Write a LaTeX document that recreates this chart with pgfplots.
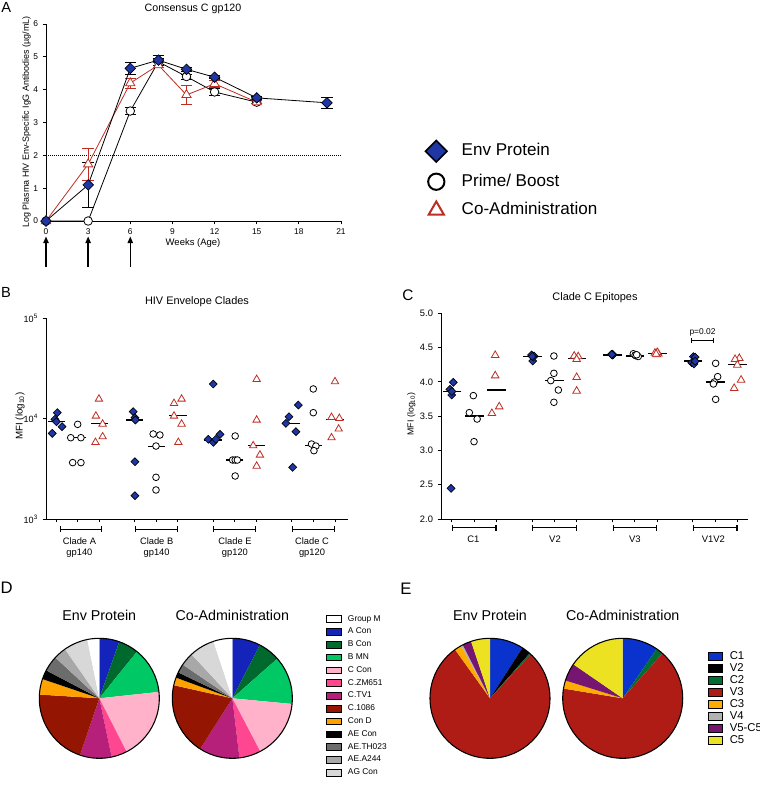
\documentclass[border=0pt]{standalone}
\usepackage{fontspec}
\setmainfont{Liberation Sans}
\usepackage{pgfplots}
\pgfplotsset{compat=1.18}
\usetikzlibrary{arrows.meta}

\definecolor{envblue}{RGB}{30,55,165}
\definecolor{cored}{RGB}{190,45,35}
% pie D colours
\definecolor{pGroupM}{RGB}{255,255,255}
\definecolor{pACon}{RGB}{20,35,185}
\definecolor{pBCon}{RGB}{0,105,45}
\definecolor{pBMN}{RGB}{0,200,100}
\definecolor{pCCon}{RGB}{255,178,202}
\definecolor{pZM}{RGB}{255,70,145}
\definecolor{pTV}{RGB}{182,32,122}
\definecolor{pC1086}{RGB}{148,22,2}
\definecolor{pConD}{RGB}{255,162,0}
\definecolor{pAECon}{RGB}{0,0,0}
\definecolor{pTH}{RGB}{108,108,108}
\definecolor{pA244}{RGB}{168,168,168}
\definecolor{pAG}{RGB}{216,216,216}
% pie E colours
\definecolor{eC1}{RGB}{10,50,205}
\definecolor{eV2}{RGB}{0,0,0}
\definecolor{eC2}{RGB}{0,110,50}
\definecolor{eV3}{RGB}{175,28,22}
\definecolor{eC3}{RGB}{255,172,0}
\definecolor{eV4}{RGB}{178,178,178}
\definecolor{eV5}{RGB}{118,22,112}
\definecolor{eC5}{RGB}{236,226,34}

\pgfplotsset{
  gp/.style={scale only axis, axis x line*=bottom, axis y line*=left,
    tick align=outside, major tick length=2.5pt,
    axis line style={line width=0.7pt},
    every tick/.style={black, line width=0.7pt},
    clip=false, /pgf/number format/assume math mode=true},
  envmk/.style={mark=square*, mark size=#1, mark options={rotate=45, fill=envblue, draw=black, line width=0.5pt, solid}},
  pbmk/.style={mark=*, mark size=#1, mark options={fill=white, draw=black, line width=0.6pt, solid}},
  comk/.style={mark=triangle*, mark size=#1, mark options={fill=white, draw=cored, line width=0.6pt, solid}},
  medl/.style={only marks, mark=-, mark size=#1, mark options={black, line width=0.8pt}},
  errA/.style={draw=none, mark=none, forget plot,
    error bars/.cd, y dir=both, y explicit,
    error bar style={draw=#1, solid, line width=0.6pt},
    error mark options={rotate=90, mark size=4.3pt, line width=0.6pt, draw=#1}},
  pieax/.style={hide axis, anchor=south west, x=45pt, y=45pt,
    xmin=-1, xmax=4.8, ymin=-1, ymax=1.6, clip=false, legend cell align=left},
}

\newcommand{\pie}[2]{%
  \gdef\pcum{0}%
  \foreach \v/\cl in {#2}{%
    \pgfmathsetmacro\pa{\pcum}%
    \pgfmathsetmacro\pb{\pcum+3.6*\v}%
    \pgfmathsetmacro\sx{#1+sin(\pa)}%
    \pgfmathsetmacro\sy{cos(\pa)}%
    \pgfmathsetmacro\saa{90-\pa}%
    \pgfmathsetmacro\sbb{90-\pb}%
    \edef\temp{\noexpand\fill[\cl] (axis cs:#1,0) -- (axis cs:\sx,\sy) arc[start angle=\saa, end angle=\sbb, radius=45pt] -- cycle;}%
    \temp
    \xdef\pcum{\pb}%
  }%
  \draw[line width=0.8pt] (axis cs:#1,0) circle[radius=45pt];%
}

\begin{document}
\begin{tikzpicture}
\useasboundingbox (0,0) rectangle (570pt,-589.5pt);

%% ---------------- Panel A ----------------
\begin{axis}[gp, at={(34.5pt,-165.75pt)}, anchor=south west,
  width=221.25pt, height=147.75pt,
  xmin=0, xmax=21, ymin=0, ymax=6,
  xtick={0,3,...,21}, ytick={0,1,...,6},
  tick label style={font=\fontsize{6.3}{7}\selectfont},
  legend style={at={(axis cs:27.0,2.46)}, anchor=north west, draw=none, fill=none,
    font=\fontsize{12.8}{14}\selectfont, row sep=8.3pt, inner sep=0pt,
    nodes={inner sep=0.5pt, text height=9.3pt, text depth=2.7pt},
    /tikz/every odd column/.append style={column sep=10.5pt}},
  legend cell align=left]
\addplot[black, densely dotted, line width=0.5pt, forget plot] coordinates {(0,2) (21,2)};
% error bars
\addplot[errA=black] coordinates {(3,1.1) +- (0,0.68) (6,4.65) +- (0,0.17) (8,4.9) +- (0,0.15) (10,4.62) +- (0,0.05) (12,4.38) +- (0,0.05) (15,3.75) +- (0,0.05) (20,3.6) +- (0,0.17)};
\addplot[errA=black] coordinates {(6,3.35) +- (0,0.1) (8,4.85) +- (0,0.1) (10,4.4) +- (0,0.08) (12,3.93) +- (0,0.1) (15,3.62) +- (0,0.05)};
\addplot[errA=cored] coordinates {(3,1.73) +- (0,0.48) (6,4.2) +- (0,0.15) (8,4.75) +- (0,0.08) (10,3.84) +- (0,0.28) (12,4.18) +- (0,0.1) (15,3.62) +- (0,0.05)};
% series
\addplot[black, line width=0.6pt, pbmk=3.2pt, forget plot] coordinates {(0,0) (3,0) (6,3.35) (8,4.85) (10,4.4) (12,3.93) (15,3.62)};
\addplot[cored, line width=0.6pt, comk=4pt, forget plot] coordinates {(0,0) (3,1.73) (6,4.2) (8,4.75) (10,3.84) (12,4.18) (15,3.62)};
\addplot[black, line width=0.6pt, envmk=2.8pt, forget plot] coordinates {(0,0) (3,1.1) (6,4.65) (8,4.9) (10,4.62) (12,4.38) (15,3.75) (20,3.6)};
% immunisation arrows
\draw[line width=1.1pt, -{Triangle[length=5pt, width=4pt]}] (axis cs:0,-1.4) -- (axis cs:0,-0.47);
\draw[line width=1.1pt, -{Triangle[length=5pt, width=4pt]}] (axis cs:3,-1.4) -- (axis cs:3,-0.47);
\draw[line width=1.1pt, -{Triangle[length=5pt, width=4pt]}] (axis cs:6,-1.4) -- (axis cs:6,-0.47);
% legend
\addlegendimage{only marks, mark=square*, mark size=5.7pt, mark options={rotate=45, fill=envblue, draw=black, line width=1.2pt}}
\addlegendentry{Env Protein}
\addlegendimage{only marks, mark=*, mark size=6.1pt, mark options={fill=white, draw=black, line width=1.5pt}}
\addlegendentry{Prime/ Boost}
\addlegendimage{only marks, mark=triangle*, mark size=6.6pt, mark options={fill=white, draw=cored, line width=1.5pt}}
\addlegendentry{Co-Administration}
\end{axis}

%% ---------------- Panel B ----------------
\begin{axis}[gp, at={(34.5pt,-389.25pt)}, anchor=south west,
  width=226.5pt, height=150.75pt,
  xmin=-0.46, xmax=13.46, ymin=3, ymax=5,
  xtick={0,1,2,3.62,4.62,5.62,7.24,8.24,9.24,10.86,11.86,12.86}, xticklabels={},
  ytick={3,4,5}, yticklabels={10\textsuperscript{3},10\textsuperscript{4},10\textsuperscript{5}},
  tick label style={font=\fontsize{6.8}{8}\selectfont}]
\addplot[medl=6.5pt] coordinates {(0.02,3.968) (3.62,3.985) (7.24,3.786) (10.86,3.952)};
\addplot[medl=6.5pt] coordinates {(1,3.809) (4.62,3.726) (8.24,3.587) (11.86,3.736)};
\addplot[medl=6.5pt] coordinates {(2,3.952) (5.62,4.028) (9.24,3.730) (12.86,3.992)};
\addplot[only marks, envmk=2.1pt] coordinates {
 (-0.17,3.852) (0.06,4.058) (-0.05,3.992) (0.28,3.919) (0.02,3.968)
 (3.56,4.068) (3.64,4.008) (3.66,3.985) (3.64,3.570) (3.64,3.232)
 (7.25,4.343) (7.02,3.793) (7.25,3.763) (7.37,3.793) (7.56,3.842)
 (10.74,4.018) (10.6,3.952) (11.17,4.134) (11.06,3.869) (10.91,3.514)};
\addplot[only marks, pbmk=2.5pt] coordinates {
 (1.0,3.942) (0.68,3.809) (1.15,3.809) (0.77,3.561) (1.15,3.561)
 (4.48,3.846) (4.79,3.836) (4.61,3.726) (4.61,3.415) (4.61,3.289)
 (8.26,3.826) (8.14,3.587) (8.26,3.587) (8.36,3.587) (8.26,3.428)
 (11.86,4.294) (11.86,4.058) (11.78,3.746) (11.98,3.726) (11.89,3.680)};
\addplot[only marks, comk=3.2pt] coordinates {
 (1.98,4.194) (1.84,4.025) (2.15,3.945) (1.82,3.763) (2.15,3.819)
 (5.44,4.151) (5.79,4.194) (5.44,4.025) (5.79,3.945) (5.64,3.763)
 (9.25,4.390) (9.25,3.985) (9.09,3.730) (9.40,3.637) (9.25,3.527)
 (12.86,4.367) (12.70,4.012) (13.06,4.002) (13.03,3.896) (12.70,3.809)};
\draw[line width=0.8pt, {Bar[width=4pt]}-{Bar[width=4pt]}] (axis cs:0.18,2.9) -- (axis cs:2.14,2.9);
\draw[line width=0.8pt, {Bar[width=4pt]}-{Bar[width=4pt]}] (axis cs:3.62,2.9) -- (axis cs:5.62,2.9);
\draw[line width=0.8pt, {Bar[width=4pt]}-{Bar[width=4pt]}] (axis cs:7.24,2.9) -- (axis cs:9.24,2.9);
\draw[line width=0.8pt, {Bar[width=4pt]}-{Bar[width=4pt]}] (axis cs:10.86,2.9) -- (axis cs:12.86,2.9);
\node[align=center, font=\fontsize{7}{7.6}\selectfont] at (axis cs:1.08,2.715) {Clade A\\gp140};
\node[align=center, font=\fontsize{7}{7.6}\selectfont] at (axis cs:4.64,2.715) {Clade B\\gp140};
\node[align=center, font=\fontsize{7}{7.6}\selectfont] at (axis cs:8.25,2.715) {Clade E\\gp120};
\node[align=center, font=\fontsize{7}{7.6}\selectfont] at (axis cs:11.8,2.715) {Clade C\\gp120};
\end{axis}

%% ---------------- Panel C ----------------
\begin{axis}[gp, at={(330.75pt,-389.25pt)}, anchor=south west,
  width=230.25pt, height=154.3pt,
  xmin=-0.49, xmax=13.27, ymin=2, ymax=5,
  xtick={0,1,2,3.6,4.6,5.6,7.2,8.2,9.2,10.8,11.8,12.8}, xticklabels={},
  ytick={2,2.5,3,3.5,4,4.5,5}, yticklabels={2.0,2.5,3.0,3.5,4.0,4.5,5.0},
  tick label style={font=\fontsize{7}{8}\selectfont}]
\addplot[medl=7pt] coordinates {(0,3.857) (3.6,4.368) (7.2,4.392) (10.8,4.304)};
\addplot[medl=7pt] coordinates {(1,3.502) (4.6,4.018) (8.2,4.377) (11.8,3.998)};
\addplot[medl=7pt] coordinates {(2,3.881) (5.6,4.334) (9.2,4.416) (12.8,4.256)};
\addplot[only marks, envmk=2.1pt] coordinates {
 (0.06,3.993) (-0.09,3.891) (-0.01,3.808) (-0.04,2.447) (0.0,3.86)
 (3.57,4.392) (3.68,4.377) (3.62,4.304) (3.65,4.36) (3.6,4.37)
 (7.15,4.40) (7.22,4.395) (7.19,4.405) (7.2,4.39) (7.17,4.40)
 (10.82,4.368) (10.9,4.36) (10.75,4.28) (10.85,4.26) (10.9,4.30)};
\addplot[only marks, pbmk=2.5pt] coordinates {
 (0.96,3.799) (0.78,3.551) (1.13,3.458) (0.99,3.128)
 (4.57,4.377) (4.57,4.124) (4.43,4.018) (4.77,3.881) (4.57,3.702)
 (8.13,4.41) (8.25,4.38) (8.35,4.37) (8.21,4.39) (8.28,4.395)
 (11.82,4.270) (11.91,4.076) (11.76,3.998) (11.72,3.969) (11.82,3.745)};
\addplot[only marks, comk=3.3pt] coordinates {
 (1.94,4.387) (1.94,4.090) (2.12,3.638) (1.79,3.541)
 (5.48,4.377) (5.66,4.368) (5.59,4.329) (5.59,4.066) (5.59,3.867)
 (9.1,4.42) (9.25,4.41) (9.18,4.40) (9.2,4.43) (9.15,4.405)
 (12.88,4.343) (12.69,4.329) (12.79,4.246) (12.96,4.027) (12.65,3.906)};
\draw[line width=0.8pt, {Bar[width=4pt]}-{Bar[width=4pt]}] (axis cs:0,1.87) -- (axis cs:2,1.87);
\draw[line width=0.8pt, {Bar[width=4pt]}-{Bar[width=4pt]}] (axis cs:3.6,1.87) -- (axis cs:5.6,1.87);
\draw[line width=0.8pt, {Bar[width=4pt]}-{Bar[width=4pt]}] (axis cs:7.2,1.87) -- (axis cs:9.2,1.87);
\draw[line width=0.8pt, {Bar[width=4pt]}-{Bar[width=4pt]}] (axis cs:10.8,1.87) -- (axis cs:12.8,1.87);
\draw[line width=0.7pt, {Bar[width=4pt]}-{Bar[width=4pt]}] (axis cs:10.7,4.6) -- (axis cs:11.76,4.6);
\node[font=\fontsize{6.3}{7}\selectfont] at (axis cs:11.23,4.717) {p=0.02};
\node[font=\fontsize{7.1}{8}\selectfont] at (axis cs:0.96,1.71) {C1};
\node[font=\fontsize{7.1}{8}\selectfont] at (axis cs:4.62,1.71) {V2};
\node[font=\fontsize{7.1}{8}\selectfont] at (axis cs:8.2,1.71) {V3};
\node[font=\fontsize{7.1}{8}\selectfont] at (axis cs:11.72,1.71) {V1V2};
\end{axis}

%% ---------------- Panel D ----------------
\begin{axis}[pieax, at={(29.475pt,-568.725pt)},
  legend image code/.code={\draw[#1] (0pt,-2.5pt) rectangle (11pt,2.5pt);},
  legend style={at={(axis cs:3.78,1.40)}, anchor=north west, draw=none, fill=none,
    font=\fontsize{6.3}{7}\selectfont, row sep=2.9pt, inner sep=0pt,
    nodes={inner sep=0.2pt, text height=4.7pt, text depth=1.6pt},
    /tikz/every odd column/.append style={column sep=4.5pt}}]
\pie{0}{5.4/pACon, 5.4/pBCon, 12.5/pBMN, 19.2/pCCon, 4.2/pZM, 8.5/pTV, 20.8/pC1086, 4.2/pConD, 2.5/pAECon, 4.2/pTH, 3.4/pA244, 6.5/pAG, 3.2/pGroupM}
\pie{2.217}{7.6/pACon, 5.9/pBCon, 13.0/pBMN, 15.8/pCCon, 5.8/pZM, 10.9/pTV, 19.5/pC1086, 2.1/pConD, 1.5/pAECon, 2.4/pTH, 3.6/pA244, 6.8/pAG, 5.1/pGroupM}
\node[font=\fontsize{10.7}{12}\selectfont] at (axis cs:0,1.39) {Env Protein};
\node[font=\fontsize{10.7}{12}\selectfont] at (axis cs:2.217,1.39) {Co-Administration};
\addlegendimage{fill=pGroupM, draw=black, line width=0.5pt}\addlegendentry{Group M}
\addlegendimage{fill=pACon, draw=black, line width=0.5pt}\addlegendentry{A Con}
\addlegendimage{fill=pBCon, draw=black, line width=0.5pt}\addlegendentry{B Con}
\addlegendimage{fill=pBMN, draw=black, line width=0.5pt}\addlegendentry{B MN}
\addlegendimage{fill=pCCon, draw=black, line width=0.5pt}\addlegendentry{C Con}
\addlegendimage{fill=pZM, draw=black, line width=0.5pt}\addlegendentry{C.ZM651}
\addlegendimage{fill=pTV, draw=black, line width=0.5pt}\addlegendentry{C.TV1}
\addlegendimage{fill=pC1086, draw=black, line width=0.5pt}\addlegendentry{C.1086}
\addlegendimage{fill=pConD, draw=black, line width=0.5pt}\addlegendentry{Con D}
\addlegendimage{fill=pAECon, draw=black, line width=0.5pt}\addlegendentry{AE Con}
\addlegendimage{fill=pTH, draw=black, line width=0.5pt}\addlegendentry{AE.TH023}
\addlegendimage{fill=pA244, draw=black, line width=0.5pt}\addlegendentry{AE.A244}
\addlegendimage{fill=pAG, draw=black, line width=0.5pt}\addlegendentry{AG Con}
\end{axis}

%% ---------------- Panel E ----------------
\begin{axis}[pieax, at={(322.5pt,-568.725pt)},
  legend image code/.code={\draw[#1] (0pt,-3pt) rectangle (10.5pt,3pt);},
  legend style={at={(axis cs:3.63,0.79)}, anchor=north west, draw=none, fill=none,
    font=\fontsize{8.5}{9}\selectfont, row sep=0.6pt, inner sep=0pt,
    nodes={inner sep=0.2pt, text height=6.2pt, text depth=1.8pt},
    /tikz/every odd column/.append style={column sep=5pt}}]
\pie{0}{9.1/eC1, 2.4/eV2, 0.4/eC2, 78.2/eV3, 1.9/eC3, 0.5/eV4, 2.4/eV5, 5.1/eC5}
\pie{2.212}{9.6/eC1, 1.9/eC2, 66.1/eV3, 2.2/eC3, 4.8/eV5, 15.4/eC5}
\node[font=\fontsize{10.7}{12}\selectfont] at (axis cs:0,1.39) {Env Protein};
\node[font=\fontsize{10.7}{12}\selectfont] at (axis cs:2.212,1.39) {Co-Administration};
\addlegendimage{fill=eC1, draw=black, line width=0.6pt}\addlegendentry{C1}
\addlegendimage{fill=eV2, draw=black, line width=0.6pt}\addlegendentry{V2}
\addlegendimage{fill=eC2, draw=black, line width=0.6pt}\addlegendentry{C2}
\addlegendimage{fill=eV3, draw=black, line width=0.6pt}\addlegendentry{V3}
\addlegendimage{fill=eC3, draw=black, line width=0.6pt}\addlegendentry{C3}
\addlegendimage{fill=eV4, draw=black, line width=0.6pt}\addlegendentry{V4}
\addlegendimage{fill=eV5, draw=black, line width=0.6pt}\addlegendentry{V5-C5}
\addlegendimage{fill=eC5, draw=black, line width=0.6pt}\addlegendentry{C5}
\end{axis}

%% ---------------- free text ----------------
\node[font=\fontsize{8}{9}\selectfont] at (144.75pt,-6.9pt) {Consensus C gp120};
\node[font=\fontsize{6.7}{8}\selectfont, rotate=90] at (20pt,-91.5pt) {Log Plasma HIV Env-Specific IgG Antibodies (µg/mL)};
\node[font=\fontsize{7.1}{8}\selectfont] at (144.75pt,-182.25pt) {Weeks (Age)};
\node[font=\fontsize{8.2}{9}\selectfont] at (147.75pt,-226.5pt) {HIV Envelope Clades};
\node[font=\fontsize{7.3}{8}\selectfont, rotate=90] at (15pt,-312pt) {MFI (log\textsubscript{10})};
\node[font=\fontsize{8.2}{9}\selectfont] at (446.25pt,-223.5pt) {Clade C Epitopes};
\node[font=\fontsize{6.6}{8}\selectfont, rotate=90] at (308.5pt,-310.5pt) {MFI (log\textsubscript{10})};
\node[font=\fontsize{11}{12}\selectfont] at (4.7pt,-5.4pt) {A};
\node[font=\fontsize{11}{12}\selectfont] at (4.5pt,-219.4pt) {B};
\node[font=\fontsize{11.5}{12}\selectfont] at (306pt,-221.25pt) {C};
\node[font=\fontsize{12.5}{13}\selectfont] at (5pt,-440.6pt) {D};
\node[font=\fontsize{12.5}{13}\selectfont] at (304.5pt,-441.75pt) {E};
\end{tikzpicture}
\end{document}
